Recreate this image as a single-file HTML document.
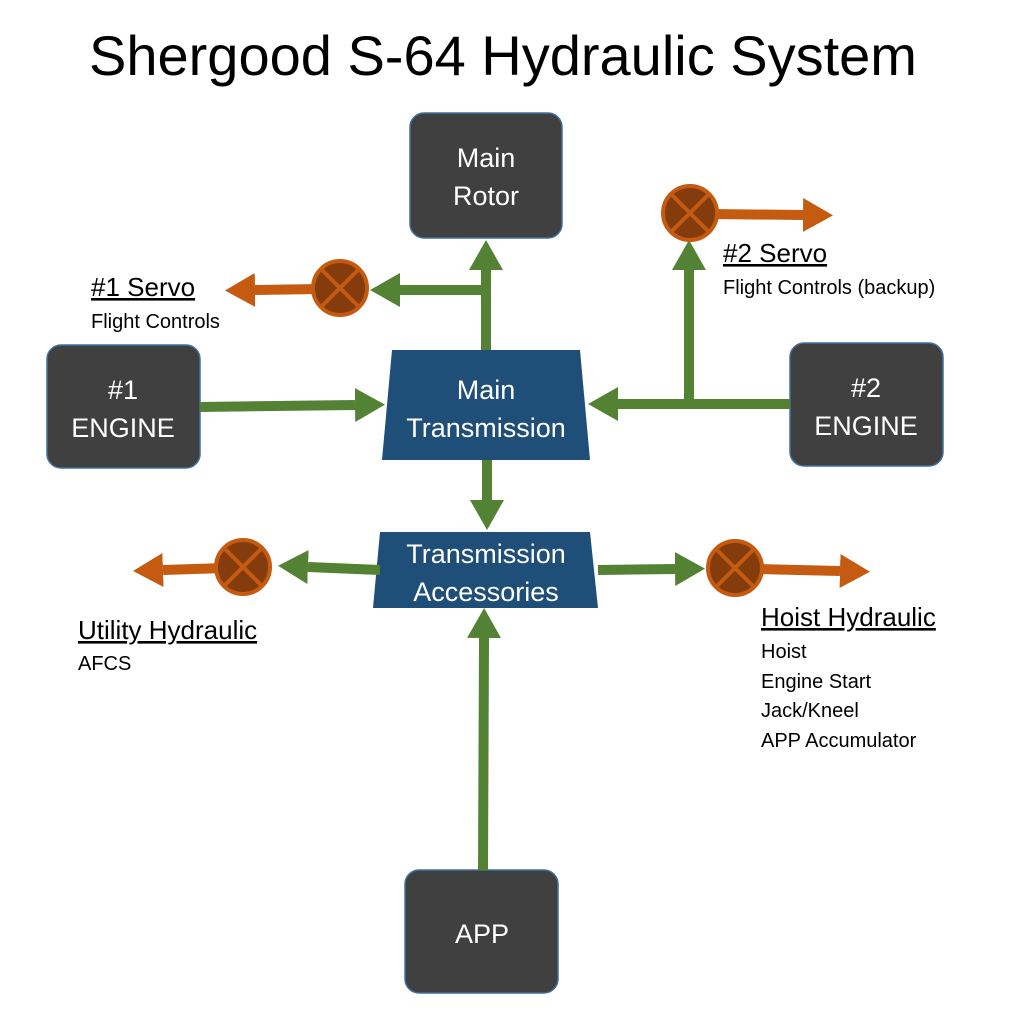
<!DOCTYPE html>
<html><head><meta charset="utf-8"><style>
html,body{margin:0;padding:0;background:#fff;}
svg{display:block;}
text{font-family:"Liberation Sans",sans-serif;}
</style></head><body>
<svg width="1024" height="1024" viewBox="0 0 1024 1024" xmlns="http://www.w3.org/2000/svg">
<defs>
<marker id="g" markerWidth="3" markerHeight="3.4" refX="0" refY="1.7" orient="auto" markerUnits="strokeWidth"><path d="M0,0 L3,1.7 L0,3.4 Z" fill="#548235"/></marker>
<marker id="o" markerWidth="3" markerHeight="3.4" refX="0" refY="1.7" orient="auto" markerUnits="strokeWidth"><path d="M0,0 L3,1.7 L0,3.4 Z" fill="#c55a11"/></marker>
</defs>
<text x="503" y="75" font-size="56" text-anchor="middle" fill="#000">Shergood S-64 Hydraulic System</text>

<g fill="#404040" stroke="#41719c" stroke-width="1.5">
<rect x="410" y="113" width="152" height="125" rx="14"/>
<rect x="47" y="345" width="153" height="123" rx="14"/>
<rect x="790" y="343" width="153" height="123" rx="14"/>
<rect x="405" y="870" width="153" height="123" rx="14"/>
</g>
<polygon points="392,350 580,350 590,460 382,460" fill="#1f4e79"/>
<polygon points="380,532 590,532 598,608 373,608" fill="#1f4e79"/>

<g fill="#fff" font-size="27" text-anchor="middle">
<text x="486" y="167">Main</text><text x="486" y="205">Rotor</text>
<text x="123" y="399">#1</text><text x="123" y="437">ENGINE</text>
<text x="866" y="397">#2</text><text x="866" y="435">ENGINE</text>
<text x="482" y="943">APP</text>
<text x="486" y="399">Main</text><text x="486" y="437">Transmission</text>
<text x="486" y="563">Transmission</text><text x="486" y="601">Accessories</text>
</g>

<g stroke="#548235" stroke-width="10" fill="none">
<line x1="200" y1="407" x2="355" y2="405" marker-end="url(#g)"/>
<line x1="790" y1="404" x2="618" y2="404" marker-end="url(#g)"/>
<line x1="689" y1="409" x2="689" y2="270" marker-end="url(#g)"/>
<line x1="486" y1="350" x2="486" y2="270" marker-end="url(#g)"/>
<line x1="491" y1="290" x2="400" y2="290" marker-end="url(#g)"/>
<line x1="487" y1="460" x2="487" y2="500" marker-end="url(#g)"/>
<line x1="483" y1="870" x2="484" y2="638" marker-end="url(#g)"/>
<line x1="380" y1="570" x2="308" y2="567" marker-end="url(#g)"/>
<line x1="598" y1="570" x2="675" y2="569" marker-end="url(#g)"/>
</g>
<g stroke="#c55a11" stroke-width="10" fill="none">
<line x1="320" y1="289" x2="255" y2="290" marker-end="url(#o)"/>
<line x1="710" y1="214" x2="803" y2="215" marker-end="url(#o)"/>
<line x1="225" y1="568" x2="163" y2="570" marker-end="url(#o)"/>
<line x1="755" y1="569" x2="840" y2="571" marker-end="url(#o)"/>
</g>
<g stroke="#c55a11" stroke-width="4">
<g transform="translate(340,288)"><circle r="27" fill="#843c0c"/><line x1="-18" y1="-18" x2="18" y2="18"/><line x1="18" y1="-18" x2="-18" y2="18"/></g>
<g transform="translate(690,213)"><circle r="27" fill="#843c0c"/><line x1="-18" y1="-18" x2="18" y2="18"/><line x1="18" y1="-18" x2="-18" y2="18"/></g>
<g transform="translate(243,567)"><circle r="27" fill="#843c0c"/><line x1="-18" y1="-18" x2="18" y2="18"/><line x1="18" y1="-18" x2="-18" y2="18"/></g>
<g transform="translate(735,568)"><circle r="27" fill="#843c0c"/><line x1="-18" y1="-18" x2="18" y2="18"/><line x1="18" y1="-18" x2="-18" y2="18"/></g>
</g>

<g fill="#000">
<text x="91" y="296" font-size="26" text-decoration="underline">#1 Servo</text>
<text x="91" y="328" font-size="20">Flight Controls</text>
<text x="723" y="262" font-size="26" text-decoration="underline">#2 Servo</text>
<text x="723" y="294" font-size="20">Flight Controls (backup)</text>
<text x="78" y="639" font-size="26" text-decoration="underline">Utility Hydraulic</text>
<text x="78" y="670" font-size="20">AFCS</text>
<text x="761" y="626" font-size="26" text-decoration="underline">Hoist Hydraulic</text>
<text x="761" y="658" font-size="20">Hoist</text>
<text x="761" y="688" font-size="20">Engine Start</text>
<text x="761" y="717" font-size="20">Jack/Kneel</text>
<text x="761" y="747" font-size="20">APP Accumulator</text>
</g>
</svg>
</body></html>
